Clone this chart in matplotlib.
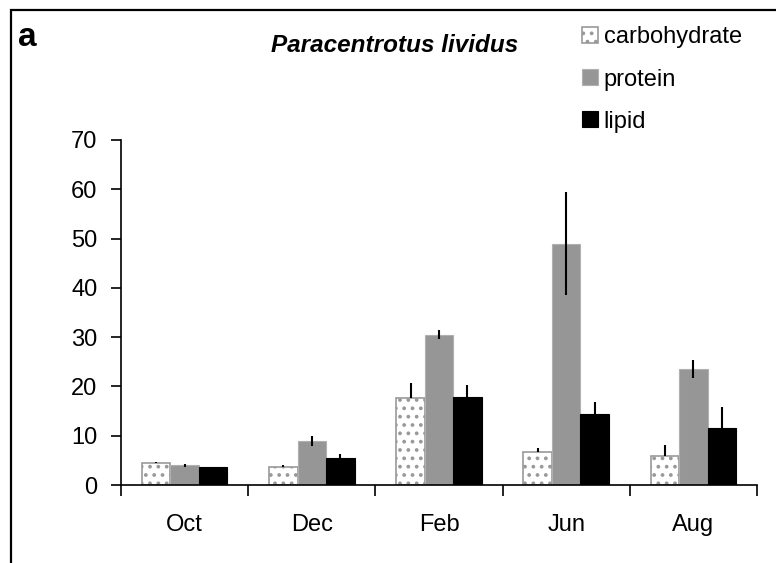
import matplotlib
matplotlib.use("Agg")
import matplotlib.pyplot as plt
import numpy as np
from matplotlib.patches import Rectangle

plt.rcParams['font.family'] = ['Liberation Sans', 'DejaVu Sans']
plt.rcParams['hatch.linewidth'] = 1.5

months = ["Oct", "Dec", "Feb", "Jun", "Aug"]
carbohydrate = [4.4, 3.7, 17.6, 6.6, 5.8]
carbohydrate_err = [0.2, 0.3, 3.0, 1.0, 2.3]
protein = [4.0, 8.9, 30.5, 49.0, 23.6]
protein_err = [0.3, 1.0, 0.9, 10.5, 1.8]
lipid = [3.6, 5.4, 17.9, 14.5, 11.5]
lipid_err = [0.1, 0.9, 2.3, 2.3, 4.4]
yticks = [0, 10, 20, 30, 40, 50, 60, 70]

fig = plt.figure(figsize=(7.76, 5.63), dpi=100)
ax = fig.add_axes([121/776, 1-485/563, (757-121)/776, (485-140)/563])

x = np.arange(len(months))
w = 0.224
z = np.zeros(len(months))

b1 = ax.bar(x - w, carbohydrate, w, color='white', edgecolor='#999999',
            hatch='..', linewidth=1.2, label='carbohydrate', zorder=2)
b2 = ax.bar(x, protein, w, color='#969696', edgecolor='#b0b0b0',
            linewidth=0.8, label='protein', zorder=2)
b3 = ax.bar(x + w, lipid, w, color='black', edgecolor='black',
            linewidth=0.8, label='lipid', zorder=2)

ekw = dict(fmt='none', ecolor='black', elinewidth=1.5, capsize=0, zorder=3)
ax.errorbar(x - w, carbohydrate, yerr=[z, carbohydrate_err], **ekw)
ax.errorbar(x, protein, yerr=protein_err, **ekw)
ax.errorbar(x + w, lipid, yerr=[z, lipid_err], **ekw)

ax.set_xlim(-0.5, len(months) - 0.5)
ax.set_ylim(0, 70)
ax.set_yticks(yticks)
ax.set_yticklabels([str(v) for v in yticks])
ax.set_xticks(np.arange(-0.5, len(months), 1.0))
ax.set_xticklabels([])
ax.set_xticks(x, minor=True)
ax.set_xticklabels(months, minor=True)
ax.tick_params(axis='x', which='major', direction='out', length=8, width=1.2)
ax.tick_params(axis='x', which='minor', length=0, pad=21, labelsize=17)
ax.tick_params(axis='y', direction='out', length=7, width=1.2, pad=10, labelsize=17)
for s in ['top', 'right']:
    ax.spines[s].set_visible(False)
for s in ['left', 'bottom']:
    ax.spines[s].set_linewidth(1.2)

fig.text(395/776, 1-45/563, 'Paracentrotus lividus', fontsize=17.5,
         fontweight='bold', fontstyle='italic', ha='center', va='center')
fig.text(18/776, 1-37/563, 'a', fontsize=24, fontweight='bold',
         ha='left', va='center')

fig.legend(handles=[b1, b2, b3], loc='upper left',
           bbox_to_anchor=(573/776, 1-17/563), frameon=False, fontsize=17,
           handlelength=0.65, handleheight=0.65, handletextpad=0.25,
           labelspacing=0.85, borderaxespad=0)

fig.patches.append(Rectangle((11/776, -0.1), 1.2, 1.1 - 10/563,
                             transform=fig.transFigure, fill=False,
                             edgecolor='black', linewidth=1.6))

fig.savefig('out.png', dpi=100)
